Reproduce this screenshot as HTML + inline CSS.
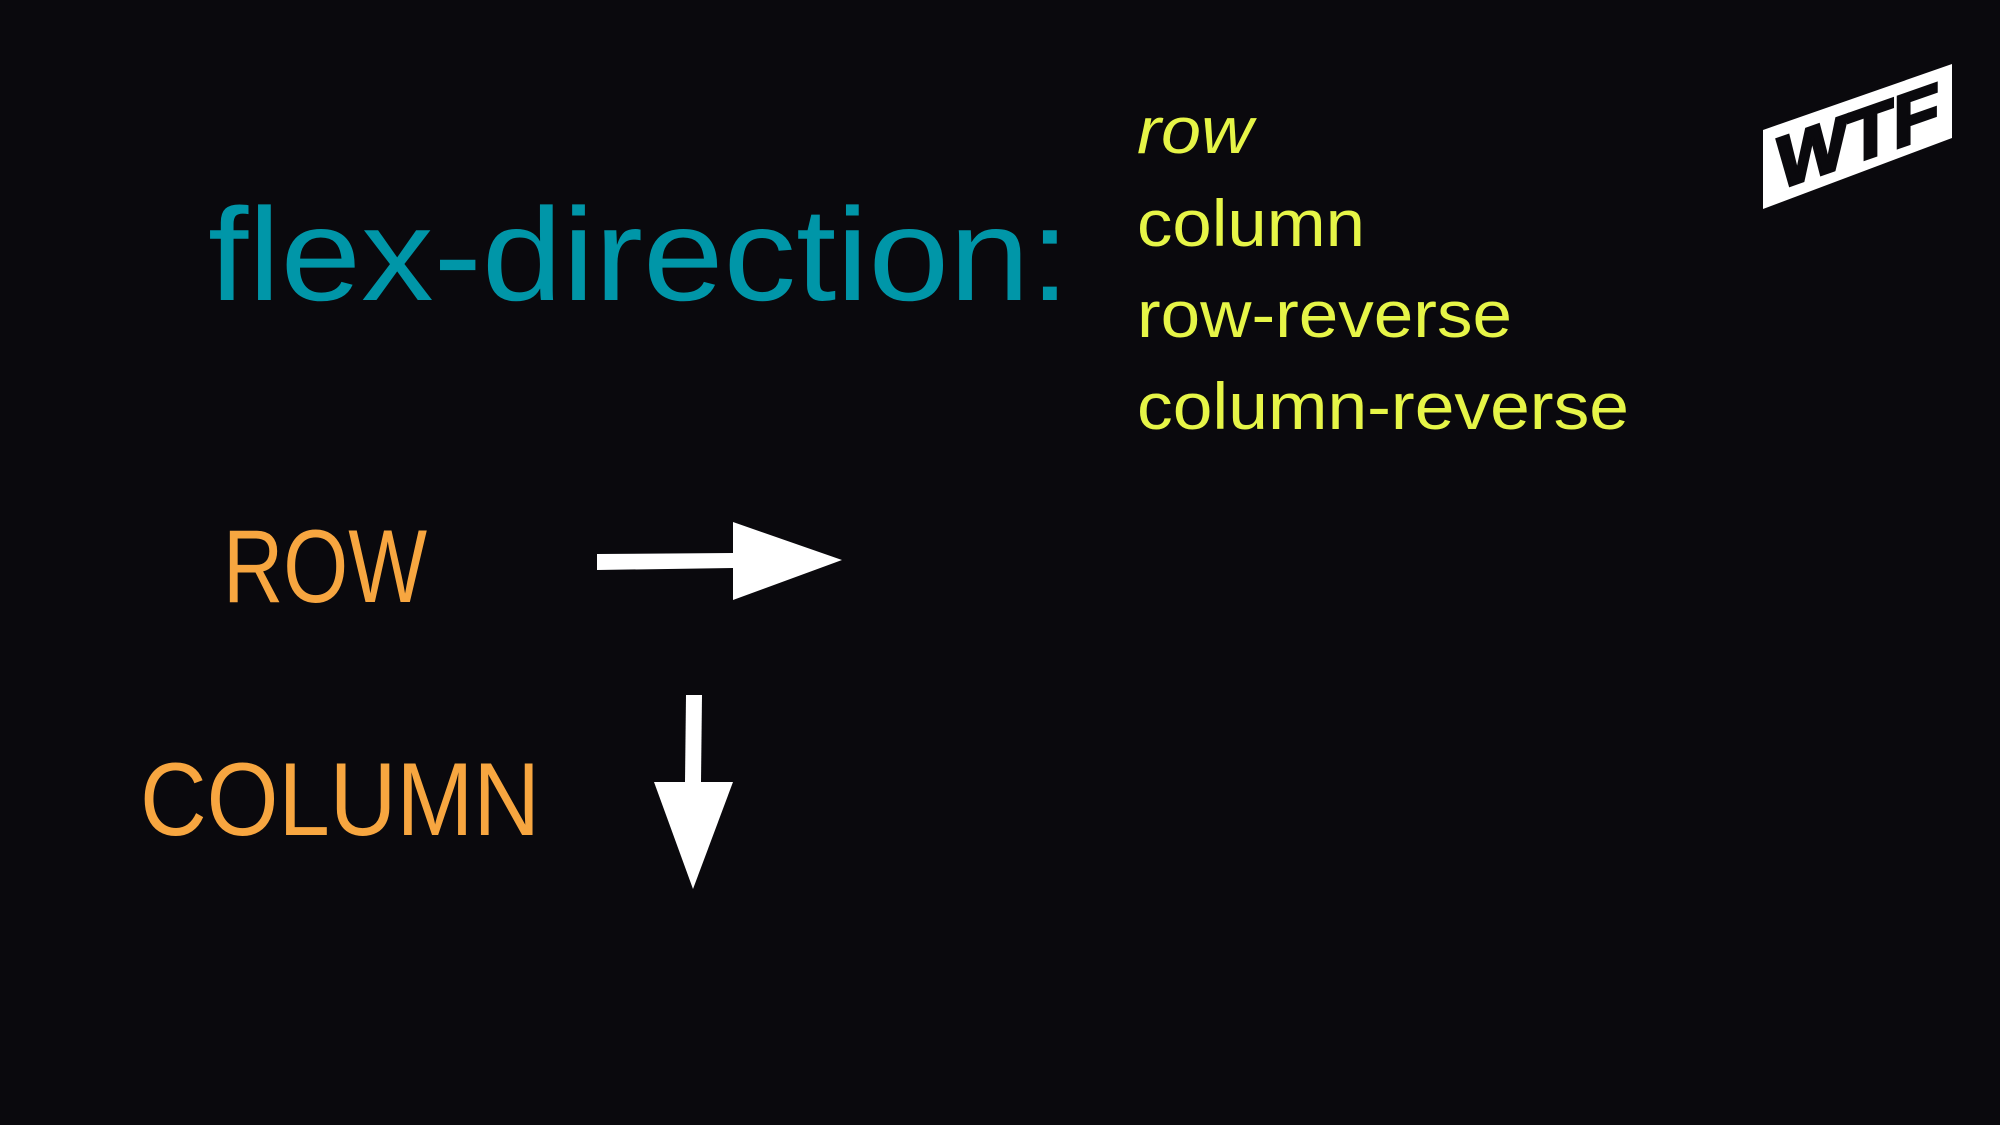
<!DOCTYPE html>
<html><head><meta charset="utf-8"><style>
html,body{margin:0;padding:0;background:#0a090d;}
svg{display:block;}
</style></head><body>
<svg width="2000" height="1125" viewBox="0 0 2000 1125" xmlns="http://www.w3.org/2000/svg">
<rect width="2000" height="1125" fill="#0a090d"/>
<text x="208" y="300" font-family="Liberation Sans, sans-serif" font-size="132" fill="#0096a8" textLength="862" lengthAdjust="spacingAndGlyphs">flex-direction:</text>
<g font-family="Liberation Sans, sans-serif" font-size="66" fill="#e6f547">
<text x="1137" y="153" font-style="italic" textLength="116" lengthAdjust="spacingAndGlyphs">row</text>
<text x="1137" y="246" textLength="228" lengthAdjust="spacingAndGlyphs">column</text>
<text x="1137" y="337" textLength="375" lengthAdjust="spacingAndGlyphs">row-reverse</text>
<text x="1137" y="429" textLength="492" lengthAdjust="spacingAndGlyphs">column-reverse</text>
</g>
<g font-family="Liberation Sans, sans-serif" font-size="104" fill="#f7a640">
<text x="223" y="602" textLength="204" lengthAdjust="spacingAndGlyphs">ROW</text>
<text x="140" y="835" textLength="400" lengthAdjust="spacingAndGlyphs">COLUMN</text>
</g>
<g fill="#ffffff">
<polygon points="597,554 733,553 733,568 597,570"/>
<polygon points="733,522 842,560 733,600"/>
<polygon points="686,695 702,695 701,782 685,782"/>
<polygon points="654,782 733,782 693,889"/>
<polygon points="1763,130 1952,64 1952,138 1763,209"/>
</g>
<g transform="translate(1763,130) skewY(-19.3)">
<text x="14" y="65" font-family="Liberation Sans, sans-serif" font-weight="bold" font-size="74" fill="#0a090d" stroke="#0a090d" stroke-width="3" textLength="162" lengthAdjust="spacingAndGlyphs">WTF</text>
</g>
</svg>
</body></html>
